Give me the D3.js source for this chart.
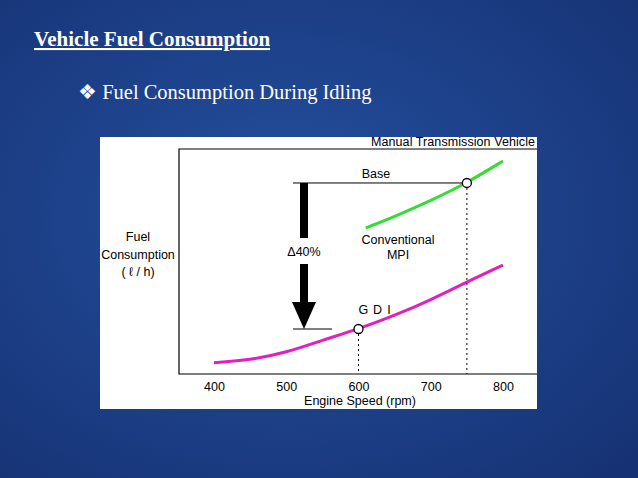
<!DOCTYPE html>
<html><head><meta charset="utf-8">
<script src="https://cdn.jsdelivr.net/npm/d3@7"></script>
<style>body{margin:0;background:#1d3f8c}</style>
</head><body>
<svg id="c" width="638" height="478"></svg>
<script>
// values (y in arbitrary units, axis has no ticks)
const rpmTicks = [400, 500, 600, 700, 800];
const gdiRpm = [400, 450, 500, 550, 600, 650, 700, 750, 800];
const gdiFuel = [0.5, 0.62, 0.95, 1.5, 2.0, 2.6, 3.29, 4.09, 4.84];
const mpiRpm = [610, 650, 700, 750, 800];
const mpiFuel = [6.49, 7.0, 7.7, 8.49, 9.47];
const baseRpm = 750, gdiMarkRpm = 600;

const svg = d3.select("#c");
const defs = svg.append("defs");
const g = defs.append("radialGradient").attr("id", "bg").attr("cx", "45%").attr("cy", "45%").attr("r", "75%");
g.append("stop").attr("offset", "0").attr("stop-color", "#24509f");
g.append("stop").attr("offset", "1").attr("stop-color", "#163274");
svg.append("rect").attr("width", 638).attr("height", 478).attr("fill", "url(#bg)");

svg.append("text").attr("x", 34).attr("y", 46).attr("fill", "#fff")
  .attr("font-family", "Liberation Serif").attr("font-weight", "bold").attr("font-size", 21)
  .attr("text-decoration", "underline").text("Vehicle Fuel Consumption");
svg.append("text").attr("x", 78).attr("y", 99).attr("fill", "#fff")
  .attr("font-family", "Liberation Serif").attr("font-size", 20.5)
  .text("❖ Fuel Consumption During Idling");

svg.append("rect").attr("x", 100).attr("y", 137).attr("width", 437).attr("height", 272).attr("fill", "#fff");

const x = d3.scaleLinear().domain([400, 800]).range([214, 503]);
const y = d3.scaleLinear().domain([0, 10]).range([374, 149]);
const font = "Liberation Sans";
const fs = 12.5;

// frame
svg.append("path").attr("d", "M537,149H179V374H537").attr("fill", "none").attr("stroke", "#000").attr("stroke-width", 1.2);
svg.append("text").attr("x", 535).attr("y", 146).attr("text-anchor", "end").attr("font-family", font)
  .attr("font-size", fs).attr("textLength", 164).text("Manual Transmission Vehicle");

const ax = svg.append("g").attr("transform", "translate(0,374)")
  .call(d3.axisBottom(x).tickValues(rpmTicks).tickSize(0).tickPadding(8));
ax.select(".domain").remove();
ax.selectAll("text").attr("font-family", font).attr("font-size", fs);
svg.append("text").attr("x", 360).attr("y", 405).attr("text-anchor", "middle").attr("font-family", font)
  .attr("font-size", fs).text("Engine Speed (rpm)");
[["Fuel", 241], ["Consumption", 259], ["( ℓ / h)", 276]].forEach(([t, yy]) =>
  svg.append("text").attr("x", 138).attr("y", yy).attr("text-anchor", "middle").attr("font-family", font)
    .attr("font-size", fs).text(t));

const line = d3.line().x(d => x(d[0])).y(d => y(d[1])).curve(d3.curveBasis);
svg.append("path").attr("d", line(d3.zip(gdiRpm, gdiFuel))).attr("fill", "none").attr("stroke", "#e020c0").attr("stroke-width", 3);
svg.append("path").attr("d", line(d3.zip(mpiRpm, mpiFuel))).attr("fill", "none").attr("stroke", "#33dd33").attr("stroke-width", 3);

const baseY = y(mpiFuel[mpiRpm.indexOf(baseRpm)]);
const gdiY = y(gdiFuel[gdiRpm.indexOf(gdiMarkRpm)]);
svg.append("line").attr("x1", 293).attr("x2", x(baseRpm)).attr("y1", baseY).attr("y2", baseY).attr("stroke", "#000");
svg.append("line").attr("x1", 293).attr("x2", 332).attr("y1", gdiY).attr("y2", gdiY).attr("stroke", "#000");
[[baseRpm, baseY], [gdiMarkRpm, gdiY]].forEach(([r, yy]) => {
  svg.append("line").attr("x1", x(r)).attr("x2", x(r)).attr("y1", yy).attr("y2", 374)
    .attr("stroke", "#000").attr("stroke-dasharray", "2,3");
  svg.append("circle").attr("cx", x(r)).attr("cy", yy).attr("r", 4.5).attr("fill", "#fff").attr("stroke", "#000").attr("stroke-width", 1.3);
});

// arrow
const ax0 = 304;
svg.append("rect").attr("x", ax0 - 4).attr("y", baseY).attr("width", 8).attr("height", 238 - baseY).attr("fill", "#000");
svg.append("rect").attr("x", ax0 - 4).attr("y", 264).attr("width", 8).attr("height", 302 - 264).attr("fill", "#000");
svg.append("path").attr("d", `M${ax0 - 12},302H${ax0 + 12}L${ax0},${gdiY}Z`).attr("fill", "#000");
svg.append("text").attr("x", ax0).attr("y", 256).attr("text-anchor", "middle").attr("font-family", font)
  .attr("font-size", fs).text("Δ40%");

svg.append("text").attr("x", 376).attr("y", 178).attr("text-anchor", "middle").attr("font-family", font).attr("font-size", fs).text("Base");
svg.append("text").attr("x", 398).attr("y", 244).attr("text-anchor", "middle").attr("font-family", font).attr("font-size", fs).text("Conventional");
svg.append("text").attr("x", 398).attr("y", 259).attr("text-anchor", "middle").attr("font-family", font).attr("font-size", fs).text("MPI");
svg.append("text").attr("x", 377).attr("y", 314).attr("text-anchor", "middle").attr("font-family", font).attr("font-size", fs)
  .attr("letter-spacing", 5).text("GDI");
</script>
</body></html>
